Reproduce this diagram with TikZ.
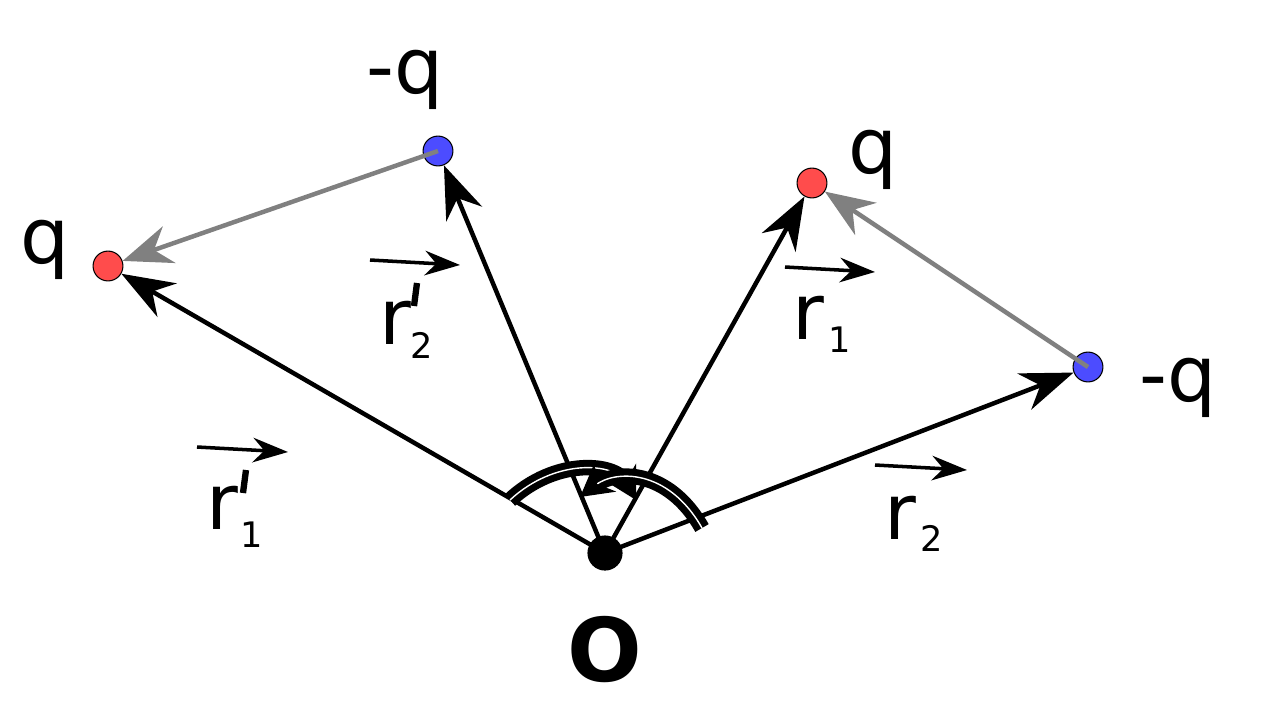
\documentclass[tikz,border=0pt]{standalone}
\usepackage{fontspec}
\setmainfont{DejaVu Sans}
\usetikzlibrary{arrows.meta}
\begin{document}
\begin{tikzpicture}[x=0.02cm,y=-0.02cm,
 vec/.style={line width=4.5pt*0.567,-{Stealth[length=30,width=22]}},
 gvec/.style={draw=gray,line width=4.5pt*0.567,-{Stealth[length=28,width=22]}},
 chg/.style={circle,draw=black,line width=0.6pt,minimum size=17pt,inner sep=0},
 big/.style={font=\fontsize{44}{50}\selectfont,inner sep=0},
 small/.style={font=\fontsize{20}{22}\selectfont,inner sep=0},
 prm/.style={line width=3.6pt,line cap=butt},
 ovec/.style={line width=2pt,-{Stealth[length=20,width=14]}},
 angarc/.style={draw=black,line width=4pt,double=white,double distance=0.8pt}]
\useasboundingbox (0,0) rectangle (1285,721);
\node[circle,fill=black,minimum size=20pt,inner sep=0] (O) at (605,553) {};
\node[chg,fill=red!70] (q1) at (108,266) {};
\node[chg,fill=blue!70] (m1) at (438,151) {};
\node[chg,fill=red!70] (q2) at (812,183) {};
\node[chg,fill=blue!70] (m2) at (1088,367) {};
\draw[vec] (O.center) -- (q1);
\draw[vec] (O.center) -- (m1);
\draw[vec] (O.center) -- (q2);
\draw[vec] (O.center) -- (m2);
\draw[gvec] (m1.center) -- (q1);
\draw[gvec] (m2.center) -- (q2);
\draw[angarc,-{Stealth[length=18,width=20]}] (510,500) .. controls (555,458) and (615,462) .. (636,500);
\draw[angarc,-{Stealth[length=18,width=20]}] (702,528) .. controls (668,468) and (615,470) .. (580,497);
\node[big] (lq1) at (45,250) {q};
\node[big] (lm1) at (405,80) {-q};
\node[big] (lq2) at (873,160) {q};
\node[big] (lm2) at (1178,388) {-q};
\node[font=\fontsize{50}{56}\selectfont\bfseries,inner sep=0] (lO) at (605,650) {O};
\node[big] (r2p) at (395,323) {r};
\coordinate (p2a) at (417,283); \coordinate (p2b) at (414,306);
\draw[prm] (p2a) -- (p2b);
\node[small] (s2p) at (422,345) {2};
\coordinate (a1) at (370,260); \coordinate (b1) at (460,265);
\draw[ovec] (a1) -- (b1);
\node[big] (r1) at (808,318) {r};
\node[small] (s1) at (840,340) {1};
\coordinate (a2) at (785,267); \coordinate (b2) at (875,272);
\draw[ovec] (a2) -- (b2);
\node[big] (r1p) at (222,508) {r};
\coordinate (p1a) at (246,470); \coordinate (p1b) at (243,493);
\draw[prm] (p1a) -- (p1b);
\node[small] (s1p) at (252,535) {1};
\coordinate (a3) at (197,447); \coordinate (b3) at (288,452);
\draw[ovec] (a3) -- (b3);
\node[big] (r2) at (900,518) {r};
\node[small] (s2) at (932,538) {2};
\coordinate (a4) at (875,465); \coordinate (b4) at (967,470);
\draw[ovec] (a4) -- (b4);
\end{tikzpicture}
\end{document}
